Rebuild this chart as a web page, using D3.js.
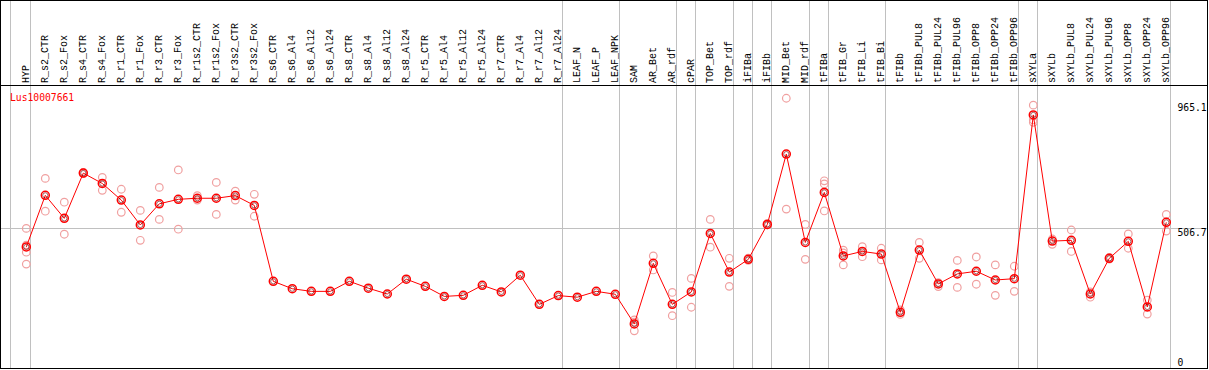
<!DOCTYPE html>
<html><head><meta charset="utf-8">
<script src="https://cdn.jsdelivr.net/npm/d3@7"></script>
<style>
html,body{margin:0;padding:0;background:#fff;}
svg{display:block;}
text{font-family:"DejaVu Sans Mono",monospace;font-size:9.7px;}
.lab{font-family:"Liberation Mono","DejaVu Sans Mono",monospace;font-size:10px;}
</style></head><body>
<svg id="c" width="1209" height="370"></svg>
<script>
const categories = ["HYP","R_s2_CTR","R_s2_Fox","R_s4_CTR","R_s4_Fox","R_r1_CTR","R_r1_Fox","R_r3_CTR","R_r3_Fox","R_r1s2_CTR","R_r1s2_Fox","R_r3s2_CTR","R_r3s2_Fox","R_s6_CTR","R_s6_Al4","R_s6_Al12","R_s6_Al24","R_s8_CTR","R_s8_Al4","R_s8_Al12","R_s8_Al24","R_r5_CTR","R_r5_Al4","R_r5_Al12","R_r5_Al24","R_r7_CTR","R_r7_Al4","R_r7_Al12","R_r7_Al24","LEAF_N","LEAF_P","LEAF_NPK","SAM","AR_Bet","AR_rdf","cPAR","TOP_Bet","TOP_rdf","iFIBa","iFIBb","MID_Bet","MID_rdf","tFIBa","tFIB_Gr","tFIB_Li","tFIB_Bi","tFIBb","tFIBb_PUL8","tFIBb_PUL24","tFIBb_PUL96","tFIBb_OPP8","tFIBb_OPP24","tFIBb_OPP96","sXYLa","sXYLb","sXYLb_PUL8","sXYLb_PUL24","sXYLb_PUL96","sXYLb_OPP8","sXYLb_OPP24","sXYLb_OPP96"];

const means = [435,630,543,714,675,612,518,598,615,619,619,629,592,305,277,267,267,305,279,257,313,286,248,252,290,265,328,218,251,245,267,256,144,373,218,265,486,340,388,520,786,452,641,401,418,408,188,423,295,333,343,310,315,934,457,460,257,392,456,208,528];

const replicates = [
  [505,442,415,370],[694,570],[604,483],[717,712],[698,649],[653,566],[573,460],[660,539],[726,502],[629,612],[679,558],[646,612],[634,551],
  [],[],[],[],[],[],[],[],[],[],[],[],[],[],[],[],[],[],[],
  [159,151,118],[401,348],[263,175],[316,207],[539,434],[392,286],[393,384],[524,518],[997,578],[520,388],[685,673,571],[423,412,367],[436,398],[430,386],
  [197,180],[452,392],[300,285],[384,282],[397,294],[367,252],[362,267],[971,915,906],[465,445],[499,418],[265,245],[395,389],[484,430],[234,181],[558,495]
];

const groupEnds = ["HYP","R_r7_Al24","LEAF_NPK","AR_rdf","cPAR","TOP_rdf","iFIBa","iFIBb","MID_rdf","tFIBa","tFIB_Bi","tFIBb_OPP96","sXYLa","sXYLb_OPP96"];
const yTicks = [0, 506.7, 965.1];
const gridValues = [506.7];
const title = "Lus10007661";

const svg = d3.select("#c");
const x = d3.scalePoint().domain(categories).range([26.3, 1166.3]);
const y = d3.scaleLinear().domain([0, 965.1]).range([362, 106.7]);
const gray = "#c0c0c0";

// vertical group separators
const sepX = [x(categories[0]) - 16].concat(groupEnds.map(c => x(c) + 4));
svg.append("g").selectAll("line").data(sepX).join("line")
  .attr("x1", d => Math.round(d) + 0.5).attr("x2", d => Math.round(d) + 0.5)
  .attr("y1", 0).attr("y2", 369).attr("stroke", gray).attr("stroke-width", 1);

// horizontal gridline
svg.append("g").selectAll("line").data(gridValues).join("line")
  .attr("x1", 0).attr("x2", 1208)
  .attr("y1", d => Math.round(y(d)) + 0.5).attr("y2", d => Math.round(y(d)) + 0.5)
  .attr("stroke", gray).attr("stroke-width", 1);

// header separator
svg.append("line").attr("x1", 0).attr("x2", 1208).attr("y1", 85.5).attr("y2", 85.5)
  .attr("stroke", "#000").attr("stroke-width", 1);

// border
svg.append("rect").attr("x", 0.5).attr("y", 0.5).attr("width", 1207).attr("height", 368)
  .attr("fill", "none").attr("stroke", "#000").attr("stroke-width", 1);

// category labels (rotated)
svg.append("g").selectAll("text").data(categories).join("text")
  .attr("class", "lab")
  .attr("transform", d => `translate(${x(d) + 2.2},83) rotate(-90)`)
  .attr("text-anchor", "start")
  .attr("fill", "#000")
  .text(d => d);

// title
svg.append("text").attr("x", 10).attr("y", 100.5).attr("fill", "#ff0000").text(title);

// y tick labels on right
svg.append("g").selectAll("text").data(yTicks).join("text")
  .attr("x", 1177.5)
  .attr("y", (d, i) => y(d) + (i === 1 ? 8.5 : 3.8))
  .attr("fill", "#000")
  .text(d => d === 0 ? "0" : d.toFixed(1));

// replicate points
const repData = [];
replicates.forEach((arr, i) => arr.forEach(v => repData.push({c: categories[i], v})));
svg.append("g").selectAll("circle").data(repData).join("circle")
  .attr("cx", d => x(d.c)).attr("cy", d => y(d.v)).attr("r", 3.8)
  .attr("fill", "none").attr("stroke", "#f0a0a0").attr("stroke-width", 1.2);

// mean line
const line = d3.line().x((d, i) => x(categories[i])).y(d => y(d));
svg.append("path").datum(means).attr("d", line)
  .attr("fill", "none").attr("stroke", "#ff0000").attr("stroke-width", 1);

// mean markers
const mg = svg.append("g").selectAll("g").data(means).join("g")
  .attr("transform", (d, i) => `translate(${x(categories[i])},${y(d)})`);
mg.append("circle").attr("r", 4).attr("fill", "none").attr("stroke", "#ff0000").attr("stroke-width", 1.5);
mg.append("circle").attr("r", 2.6).attr("fill", "none").attr("stroke", "#600").attr("stroke-width", 0.6);
</script>
</body></html>
